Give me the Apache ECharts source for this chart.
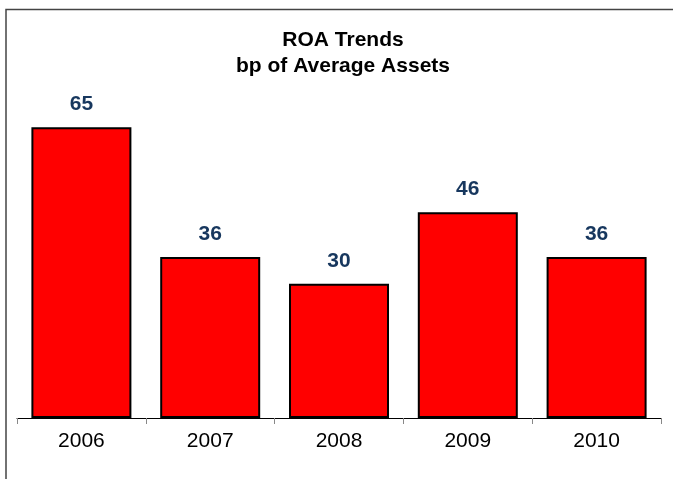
<!DOCTYPE html>
<html>
<head>
<meta charset="utf-8">
<script src="https://cdn.jsdelivr.net/npm/echarts@6/dist/echarts.min.js"></script>
<style>
html, body { margin: 0; padding: 0; background: #fff; }
#chart { width: 673px; height: 479px; }
</style>
</head>
<body>
<div id="chart"></div>
<script>
var years = ['2006', '2007', '2008', '2009', '2010'];
var roaValues = [65, 36, 30, 46, 36];

var myChart = echarts.init(document.getElementById('chart'));

var option = {
    animation: false,
    title: {
        text: 'ROA Trends\nbp of Average Assets',
        left: 338,
        top: 22,
        textAlign: 'center',
        textStyle: {
            fontFamily: 'Liberation Sans, Arial, sans-serif',
            fontSize: 21,
            fontWeight: 'bold',
            color: '#000',
            lineHeight: 26
        }
    },
    graphic: [{
        type: 'rect',
        shape: { x: 6, y: 9.5, width: 700, height: 500 },
        style: { fill: 'none', stroke: '#444', lineWidth: 1.5 },
        silent: true
    }],
    grid: {
        left: 17,
        right: 12,
        top: 60,
        bottom: 61
    },
    xAxis: {
        type: 'category',
        data: years,
        axisLine: { lineStyle: { color: '#000', width: 1 } },
        axisTick: { show: true, length: 6, lineStyle: { color: '#888' } },
        axisLabel: {
            fontFamily: 'Liberation Sans, Arial, sans-serif',
            fontSize: 21,
            color: '#000',
            margin: 13
        }
    },
    yAxis: {
        type: 'value',
        min: 0,
        max: 80,
        show: false,
        splitLine: { show: false }
    },
    series: [{
        type: 'bar',
        data: roaValues,
        barWidth: 100,
        itemStyle: {
            color: '#ff0000',
            borderColor: '#000',
            borderWidth: 2
        },
        label: {
            show: true,
            position: 'top',
            distance: 12,
            fontFamily: 'Liberation Sans, Arial, sans-serif',
            fontSize: 21,
            fontWeight: 'bold',
            color: '#17375e'
        }
    }]
};

myChart.setOption(option, true);
</script>
</body>
</html>
